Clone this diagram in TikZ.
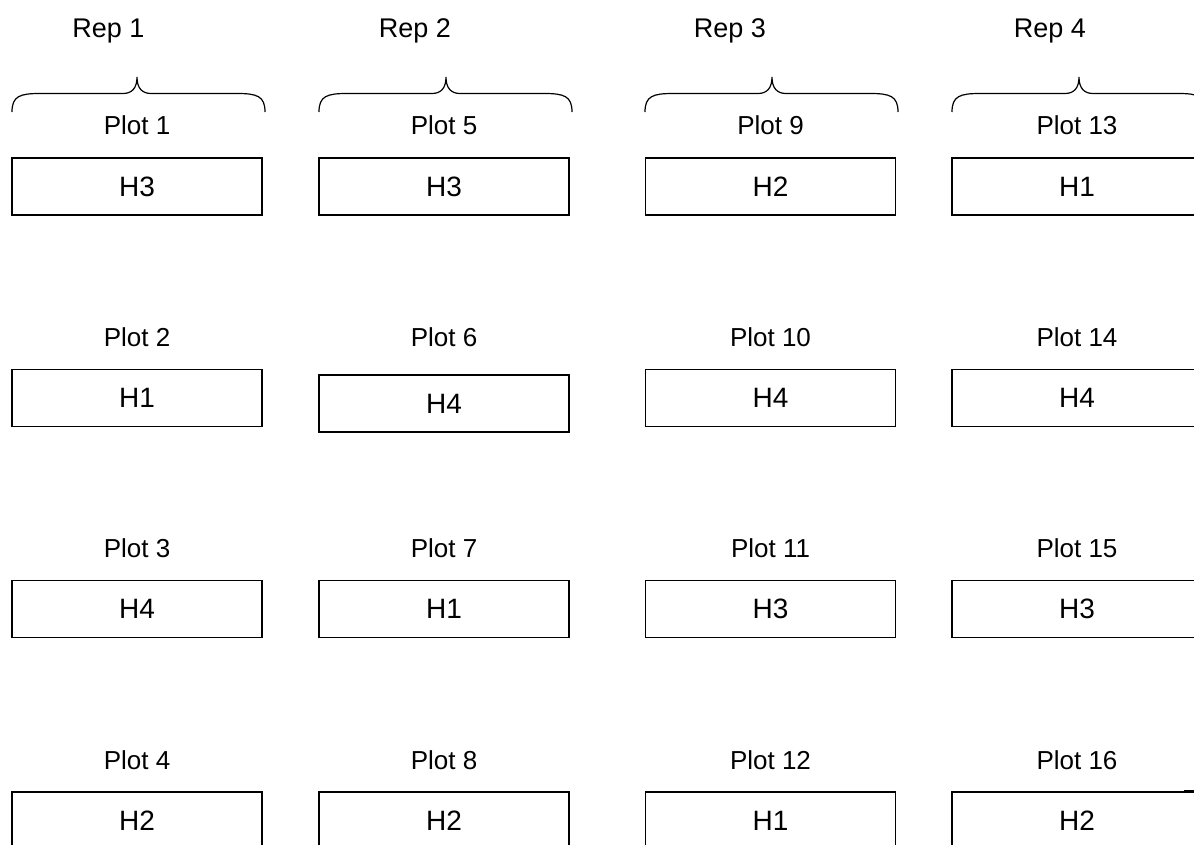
\documentclass[tikz,border=0pt]{standalone}
\usepackage{fontspec}
\setmainfont{Liberation Sans}
\begin{document}
\begin{tikzpicture}[x=1pt,y=-1pt,
  plotbox/.style={draw=black,line width=1.3pt,minimum width=250pt,minimum height=57pt,inner sep=0pt,
    font=\fontsize{28}{32}\selectfont},
  plotlabel/.style={anchor=base,inner sep=0pt,font=\fontsize{26}{30}\selectfont},
  replabel/.style={anchor=base,inner sep=0pt,font=\fontsize{27}{31}\selectfont},
  bracepath/.style={draw=black,line width=1.2pt}]
\useasboundingbox (0,0) rectangle (1194,844);
\clip (0,0) rectangle (1194,844);
% Rep labels
\node[replabel] (rep1) at (108.5,37) {Rep 1};
\node[replabel] (rep2) at (415,37) {Rep 2};
\node[replabel] (rep3) at (730,37) {Rep 3};
\node[replabel] (rep4) at (1050,37) {Rep 4};
% braces
\foreach \L/\C/\R in {12/137/265, 319/446/572, 645/772/898, 952/1079/1206}{
  \draw[bracepath] (\L,112) .. controls (\L,96) and (\L+8,93.5) .. (\L+28,93.5)
    -- (\C-14,93.5) .. controls (\C-5,93.5) and (\C,88) .. (\C,77)
    .. controls (\C,88) and (\C+5,93.5) .. (\C+14,93.5)
    -- (\R-28,93.5) .. controls (\R-8,93.5) and (\R,96) .. (\R,112);
}
% Column 1
\node[plotlabel] (p1) at (137,134) {Plot 1};
\node[plotbox] (b1) at (137,186.5) {H3};
\node[plotlabel] (p2) at (137,346) {Plot 2};
\node[plotbox] (b2) at (137,398) {H1};
\node[plotlabel] (p3) at (137,557) {Plot 3};
\node[plotbox] (b3) at (137,609) {H4};
\node[plotlabel] (p4) at (137,769) {Plot 4};
\node[plotbox] (b4) at (137,820.5) {H2};
% Column 2
\node[plotlabel] (p5) at (444,134) {Plot 5};
\node[plotbox] (b5) at (444,186.5) {H3};
\node[plotlabel] (p6) at (444,346) {Plot 6};
\node[plotbox] (b6) at (444,403.5) {H4};
\node[plotlabel] (p7) at (444,557) {Plot 7};
\node[plotbox] (b7) at (444,609) {H1};
\node[plotlabel] (p8) at (444,769) {Plot 8};
\node[plotbox] (b8) at (444,820.5) {H2};
% Column 3
\node[plotlabel] (p9) at (770.5,134) {Plot 9};
\node[plotbox] (b9) at (770.5,186.5) {H2};
\node[plotlabel] (p10) at (770.5,346) {Plot 10};
\node[plotbox] (b10) at (770.5,398) {H4};
\node[plotlabel] (p11) at (770.5,557) {Plot 11};
\node[plotbox] (b11) at (770.5,609) {H3};
\node[plotlabel] (p12) at (770.5,769) {Plot 12};
\node[plotbox] (b12) at (770.5,820.5) {H1};
% Column 4
\node[plotlabel] (p13) at (1077,134) {Plot 13};
\node[plotbox] (b13) at (1077,186.5) {H1};
\node[plotlabel] (p14) at (1077,346) {Plot 14};
\node[plotbox] (b14) at (1077,398) {H4};
\node[plotlabel] (p15) at (1077,557) {Plot 15};
\node[plotbox] (b15) at (1077,609) {H3};
\node[plotlabel] (p16) at (1077,769) {Plot 16};
\node[plotbox] (b16) at (1077,820.5) {H2};
% small tick at right
\coordinate (t1) at (1184,790.5);
\coordinate (t2) at (1194,790.5);
\draw[line width=1.2pt] (t1) -- (t2);
\end{tikzpicture}
\end{document}
